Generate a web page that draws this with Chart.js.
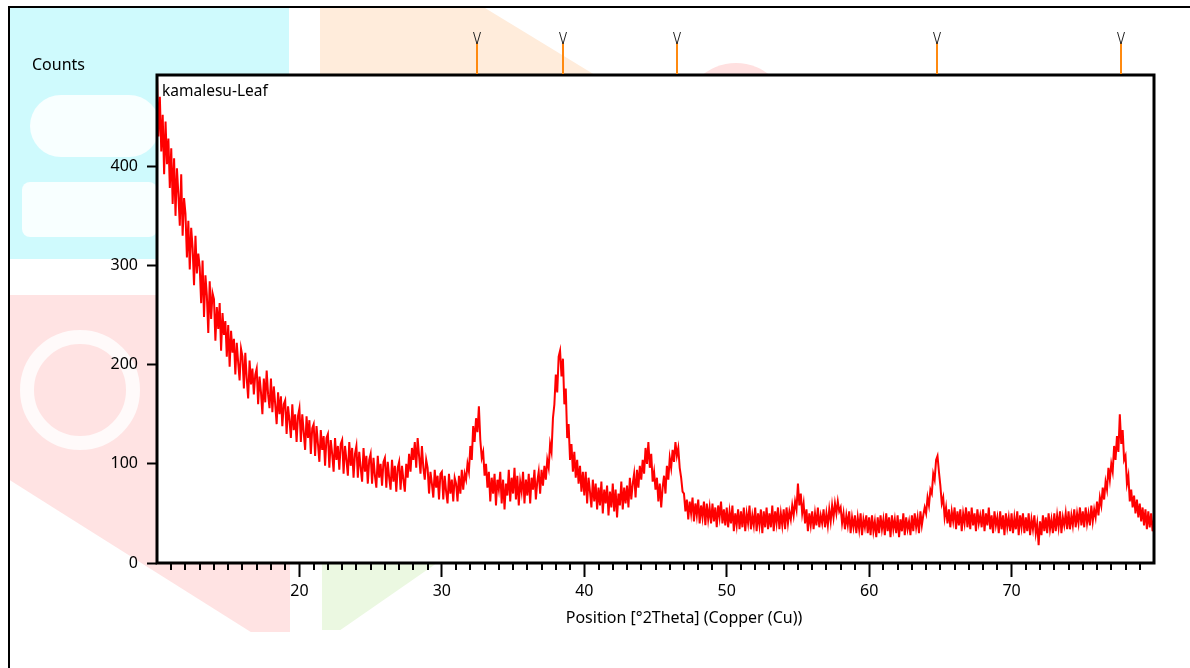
<!DOCTYPE html>
<html>
<head>
<meta charset="utf-8">
<script src="https://cdn.jsdelivr.net/npm/chart.js@4"></script>
<style>
html,body{margin:0;padding:0;background:#fff;}
#wrap{position:relative;width:1190px;height:668px;overflow:hidden;font-family:"Noto Sans",sans-serif;}
.wm{position:absolute;}
#frame{position:absolute;left:8px;top:6px;width:1400px;height:900px;border-left:2px solid #000;border-top:2px solid #000;}
#chart{position:absolute;left:0;top:0;}
#counts{position:absolute;left:32px;top:56px;font-size:16px;line-height:16px;color:#000;}
</style>
</head>
<body>
<div id="wrap">
  <!-- faint watermark behind the figure -->
  <div class="wm" style="left:10px;top:8px;width:279px;height:251px;background:#cffafd"></div>
  <div class="wm" style="left:30px;top:95px;width:130px;height:62px;border-radius:31px;background:#fff;opacity:.85"></div>
  <div class="wm" style="left:22px;top:182px;width:135px;height:55px;border-radius:8px;background:#fff;opacity:.85"></div>
  <div class="wm" style="left:320px;top:8px;width:275px;height:67px;background:#ffecdb;clip-path:polygon(0 0,60% 0,100% 100%,0 100%)"></div>
  <div class="wm" style="left:683px;top:63px;width:106px;height:106px;border-radius:50%;background:#ffe0e0"></div>
  <div class="wm" style="left:10px;top:295px;width:280px;height:337px;background:#ffe3e3;clip-path:polygon(0 0,100% 0,100% 100%,86% 100%,0 55%)"></div>
  <div class="wm" style="left:20px;top:330px;width:120px;height:120px;border-radius:50%;border:14px solid #fff;box-sizing:border-box;opacity:.8"></div>
  <div class="wm" style="left:322px;top:563px;width:115px;height:67px;background:#ebf8e1;clip-path:polygon(0 0,100% 0,16% 100%,0 100%)"></div>
  <div id="frame"></div>
  <canvas id="chart" width="1190" height="668"></canvas>
  <div id="counts">Counts</div>
</div>
<script>
// scan: 10 - 80 °2Theta, 0.1° step
const TT_START = 10, TT_STEP = 0.1;
const counts10 = [490,430,470,415,452,392,445,402,428,378,
  418,362,408,350,398,372,340,392,330,368,
  352,308,345,296,338,318,280,330,292,312,
  298,262,305,248,290,270,232,284,246,272,
  266,224,258,236,262,214,252,230,244,208,
  240,198,234,212,226,190,222,202,184,216,
  208,176,212,186,166,204,180,196,170,190,
  196,160,188,172,150,186,162,194,170,156,
  186,152,178,160,140,172,150,168,138,160,
  164,130,158,144,126,160,134,150,122,148];
const counts20 = [156,122,150,132,114,148,126,144,110,136,
  140,108,138,120,102,134,114,128,98,126,
  130,96,124,110,92,126,104,118,94,120,
  124,90,118,104,88,122,98,116,86,110,
  118,86,112,96,82,116,92,108,80,104,
  110,80,106,88,76,108,86,100,78,102,
  106,76,102,86,74,104,82,98,72,96,
  102,74,98,84,72,100,86,110,92,116,
  104,122,96,126,108,90,118,96,84,104,
  96,70,92,80,66,94,76,88,64,90];
const counts30 = [92,64,88,72,60,90,70,84,62,86,
  80,62,88,70,94,74,90,84,100,92,
  118,104,138,122,146,132,158,124,106,112,
  88,100,76,92,62,86,70,90,58,84,
  74,92,60,84,54,80,68,94,62,86,
  70,96,64,88,58,82,72,92,60,84,
  68,90,60,86,74,94,64,82,92,70,
  94,78,98,84,104,96,120,112,146,160,
  190,172,208,214,188,206,160,176,126,140,
  104,120,92,112,86,104,80,98,72,92];
const counts40 = [68,92,60,86,72,56,84,62,80,54,
  76,58,82,50,74,60,78,48,72,56,
  80,52,74,46,70,58,82,54,76,60,
  78,56,86,64,80,90,66,94,76,98,
  84,104,90,116,100,122,96,110,82,92,
  74,86,62,80,56,76,88,70,98,84,
  106,96,114,102,122,108,116,96,86,72,
  70,52,64,44,62,50,66,42,60,48,
  64,40,58,46,62,38,60,44,56,40,
  60,42,56,36,58,46,62,40,54,38];
const counts50 = [56,36,52,40,58,32,50,38,54,34,
  52,36,56,32,50,40,58,34,48,38,
  56,32,50,38,54,30,52,36,56,34,
  50,36,58,32,52,40,56,34,50,38,
  54,34,56,40,52,44,58,48,62,54,
  80,58,70,50,60,40,54,32,50,38,
  52,34,50,38,56,36,48,40,54,36,
  50,38,54,42,58,46,60,50,62,52,
  56,40,50,34,48,38,52,30,46,36,
  48,30,46,34,50,28,44,36,48,30];
const counts60 = [46,28,48,32,42,26,46,30,48,34,
  44,28,50,32,46,26,48,34,44,30,
  48,26,44,32,50,28,46,34,42,28,
  48,32,50,36,46,30,52,38,48,56,
  50,66,58,74,70,90,84,104,108,92,
  78,60,66,46,56,40,54,36,52,42,
  56,34,52,38,54,32,50,40,56,36,
  52,34,56,38,50,32,54,40,48,36,
  54,32,50,38,56,34,48,30,52,38,
  46,30,52,34,48,28,50,36,46,32];
const counts70 = [50,30,46,34,52,28,48,36,50,30,
  46,32,50,28,44,34,48,30,40,18,
  42,28,48,32,46,30,50,34,44,30,
  50,32,48,36,52,30,46,38,50,34,
  52,34,48,38,54,36,50,40,56,38,
  52,36,56,40,50,38,58,42,54,46,
  62,48,66,58,76,64,82,74,96,84,
  100,92,118,104,128,112,150,120,134,104,
  108,80,88,62,74,56,68,50,64,46,
  60,42,56,38,54,34,52,36,50,32,
  44];

const X_TICKS = [20,30,40,50,60,70];
const Y_TICKS = [0,100,200,300,400];
const REF_PEAKS = [32.47,38.5,46.5,64.76,77.68];
const SAMPLE = 'kamalesu-Leaf';
const X_TITLE = 'Position [°2Theta] (Copper (Cu))';

const COUNTS = [...counts10,...counts20,...counts30,...counts40,...counts50,...counts60,...counts70];
const points = COUNTS.map((c,i)=>({x:+(TT_START+i*TT_STEP).toFixed(1), y:c}));
const minorTicks = [];
for(let v=11; v<80; v++) if(v%10) minorTicks.push(v);

Chart.defaults.font.family = '"Noto Sans", sans-serif';
Chart.defaults.color = '#000';

const overlay = {
  id:'overlay',
  beforeDraw(c){
    const a=c.chartArea, ctx=c.ctx;
    ctx.save(); ctx.fillStyle='#fff'; ctx.fillRect(a.left,a.top,a.width,a.height); ctx.restore();
  },
  afterDraw(c){
    const ctx=c.ctx, a=c.chartArea, xs=c.scales.x;
    ctx.save();
    ctx.strokeStyle='#000'; ctx.lineWidth=2;
    minorTicks.forEach(v=>{
      const px=Math.round(xs.getPixelForValue(v));
      ctx.beginPath(); ctx.moveTo(px,a.bottom); ctx.lineTo(px,a.bottom+7); ctx.stroke();
    });
    ctx.lineWidth=3; ctx.strokeRect(a.left,a.top,a.width,a.height);
    REF_PEAKS.forEach(v=>{
      const px=Math.round(xs.getPixelForValue(v));
      ctx.strokeStyle='#ff8a10'; ctx.lineWidth=2;
      ctx.beginPath(); ctx.moveTo(px,43); ctx.lineTo(px,a.top-1); ctx.stroke();
      ctx.strokeStyle='#222'; ctx.lineWidth=1;
      ctx.beginPath(); ctx.moveTo(px-3.5,32); ctx.lineTo(px,44); ctx.lineTo(px+3.5,32); ctx.stroke();
    });
    ctx.fillStyle='#000'; ctx.textBaseline='alphabetic';
    ctx.font='15.5px "Noto Sans"';
    ctx.fillText(SAMPLE,a.left+5,a.top+21);
    // axis title sits a little right of the plot centre
    ctx.font='16px "Noto Sans"'; ctx.textAlign='center'; ctx.textBaseline='middle';
    ctx.fillText(X_TITLE,a.left+527,a.bottom+55);
    ctx.restore();
  }
};

new Chart(document.getElementById('chart'),{
  type:'line',
  data:{datasets:[{data:points,borderColor:'#ff0000',borderWidth:2,pointRadius:0,tension:0,fill:false}]},
  options:{
    responsive:false,animation:false,
    layout:{padding:{left:0,top:75,right:36,bottom:0}},
    plugins:{legend:{display:false},tooltip:{enabled:false}},
    scales:{
      x:{type:'linear',min:10,max:80,
        afterBuildTicks:s=>{s.ticks=X_TICKS.map(v=>({value:v}));},
        afterFit:s=>{s.height=105;},
        border:{display:false},
        grid:{drawOnChartArea:false,drawTicks:true,tickLength:14,tickWidth:2,tickColor:'#000'},
        ticks:{font:{size:16},padding:5,maxRotation:0,autoSkip:false}},
      y:{min:0,max:492,
        afterBuildTicks:s=>{s.ticks=Y_TICKS.map(v=>({value:v}));},
        afterFit:s=>{s.width=157;},
        border:{display:false},
        grid:{drawOnChartArea:false,drawTicks:true,tickLength:10,tickWidth:2,tickColor:'#000'},
        ticks:{font:{size:16},padding:9}}
    }
  },
  plugins:[overlay]
});
</script>
</body>
</html>
